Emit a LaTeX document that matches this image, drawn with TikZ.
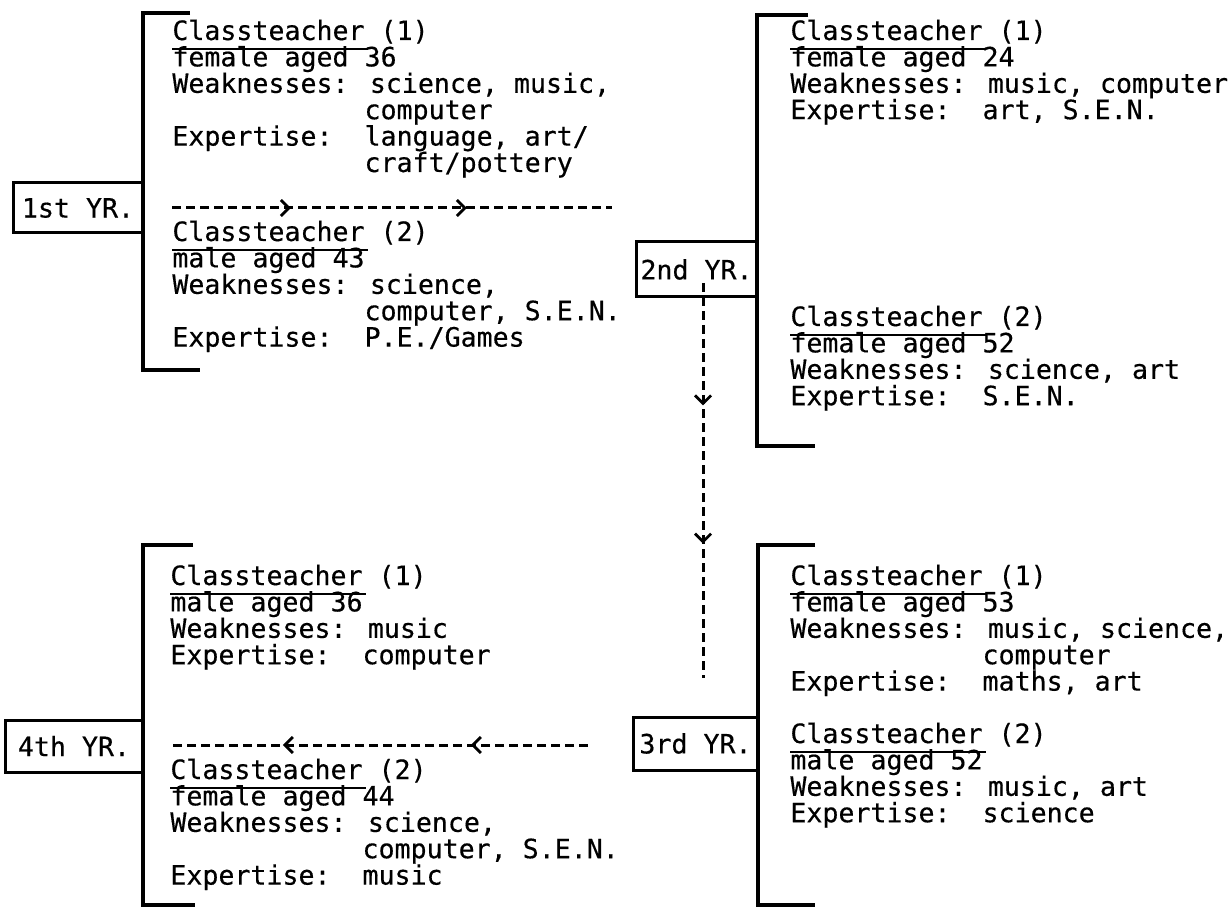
\documentclass[tikz,border=0pt]{standalone}
\usepackage{fontspec}
\newfontfamily\tw[FakeBold=0.4]{DejaVu Sans Mono}
\usetikzlibrary{arrows.meta,decorations.markings}
\tikzset{
  lbl/.style={anchor=base west,inner sep=0pt,font=\tw\fontsize{13.3}{16}\selectfont},
  yrbox/.style={draw,line width=1.5pt,inner sep=0pt,font=\tw\fontsize{13.3}{16}\selectfont},
  brk/.style={line width=1.6pt},
  ul/.style={line width=1pt},
  flow/.style={line width=1.5pt,dash pattern=on 4.5pt off 2.5pt},
  flowmarks/.style 2 args={flow,postaction={decorate},
    decoration={markings,
      mark=at position #1 with {\arrow[line width=1.4pt]{Straight Barb[length=4pt,width=8pt]}},
      mark=at position #2 with {\arrow[line width=1.4pt]{Straight Barb[length=4pt,width=8pt]}}}},
}
\newcommand\ind{\hphantom{Weaknesses:\ }}
\begin{document}
\begin{tikzpicture}[x=0.5pt,y=-0.5pt]
\useasboundingbox (0,0) rectangle (1229,908);

% ---------- 1st YR ----------
\node[yrbox,minimum width=65pt,minimum height=25pt] (y1) at (78,208) {1st YR.};
\coordinate (b1t) at (190,13);
\coordinate (b1b) at (200,370);
\draw[brk] (b1t) -- (143,13) -- (143,370) -- (b1b);
\node[lbl] (t1a) at (172,40) {Classteacher (1)};
\node[lbl] (t1b) at (172,66.4) {female aged 36};
\node[lbl] (t1c) at (172,92.8) {Weaknesses: science, music,};
\node[lbl] (t1d) at (172,119.2) {\ind computer};
\node[lbl] (t1e) at (172,145.6) {Expertise:\ \ language, art/};
\node[lbl] (t1f) at (172,172) {\ind craft/pottery};
\node[lbl] (t1g) at (172,241) {Classteacher (2)};
\node[lbl] (t1h) at (172,267.4) {male aged 43};
\node[lbl] (t1i) at (172,293.8) {Weaknesses: science,};
\node[lbl] (t1j) at (172,320.2) {\ind computer, S.E.N.};
\node[lbl] (t1k) at (172,346.6) {Expertise:\ \ P.E./Games};
\draw[ul] ([yshift=-4.5pt]t1a.base west) -- ++(196,0);
\draw[ul] ([yshift=-4.5pt]t1g.base west) -- ++(196,0);

% ---------- 2nd YR ----------
\node[yrbox,minimum width=60.5pt,minimum height=27.5pt] (y2) at (696.5,269.5) {2nd YR.};
\coordinate (b2t) at (808,15);
\coordinate (b2b) at (815,446);
\draw[brk] (b2t) -- (757,15) -- (757,446) -- (b2b);
\node[lbl] (t2a) at (790,40) {Classteacher (1)};
\node[lbl] (t2b) at (790,66.4) {female aged 24};
\node[lbl] (t2c) at (790,92.8) {Weaknesses: music, computer};
\node[lbl] (t2d) at (790,119.2) {Expertise:\ \ art, S.E.N.};
\node[lbl] (t2e) at (790,326) {Classteacher (2)};
\node[lbl] (t2f) at (790,352.4) {female aged 52};
\node[lbl] (t2g) at (790,378.8) {Weaknesses: science, art};
\node[lbl] (t2h) at (790,405.2) {Expertise:\ \ S.E.N.};
\draw[ul] ([yshift=-4.5pt]t2a.base west) -- ++(196,0);
\draw[ul] ([yshift=-4.5pt]t2e.base west) -- ++(196,0);

% ---------- 3rd YR ----------
\node[yrbox,minimum width=62.5pt,minimum height=26.5pt] (y3) at (695.5,743.5) {3rd YR.};
\coordinate (b3t) at (815,545);
\coordinate (b3b) at (815,905);
\draw[brk] (b3t) -- (758,545) -- (758,905) -- (b3b);
\node[lbl] (t3a) at (790,585) {Classteacher (1)};
\node[lbl] (t3b) at (790,611.4) {female aged 53};
\node[lbl] (t3c) at (790,637.8) {Weaknesses: music, science,};
\node[lbl] (t3d) at (790,664.2) {\ind computer};
\node[lbl] (t3e) at (790,690.6) {Expertise:\ \ maths, art};
\node[lbl] (t3f) at (790,743) {Classteacher (2)};
\node[lbl] (t3g) at (790,769.4) {male aged 52};
\node[lbl] (t3h) at (790,795.8) {Weaknesses: music, art};
\node[lbl] (t3i) at (790,822.2) {Expertise:\ \ science};
\draw[ul] ([yshift=-4.5pt]t3a.base west) -- ++(196,0);
\draw[ul] ([yshift=-4.5pt]t3f.base west) -- ++(196,0);

% ---------- 4th YR ----------
\node[yrbox,minimum width=69pt,minimum height=26pt] (y4) at (74,746) {4th YR.};
\coordinate (b4t) at (193,545);
\coordinate (b4b) at (195,905);
\draw[brk] (b4t) -- (143,545) -- (143,905) -- (b4b);
\node[lbl] (t4a) at (170,585) {Classteacher (1)};
\node[lbl] (t4b) at (170,611.4) {male aged 36};
\node[lbl] (t4c) at (170,637.8) {Weaknesses: music};
\node[lbl] (t4d) at (170,664.2) {Expertise:\ \ computer};
\node[lbl] (t4e) at (170,779) {Classteacher (2)};
\node[lbl] (t4f) at (170,805.4) {female aged 44};
\node[lbl] (t4g) at (170,831.8) {Weaknesses: science,};
\node[lbl] (t4h) at (170,858.2) {\ind computer, S.E.N.};
\node[lbl] (t4i) at (170,884.6) {Expertise:\ \ music};
\draw[ul] ([yshift=-4.5pt]t4a.base west) -- ++(196,0);
\draw[ul] ([yshift=-4.5pt]t4e.base west) -- ++(196,0);

% ---------- flows ----------
\coordinate (f1s) at (172,208);
\coordinate (f1e) at (612,208);
\draw[flowmarks={0.27}{0.67}] (f1s) -- (f1e);
\coordinate (f2s) at (703,283);
\coordinate (f2e) at (703,678);
\draw[flowmarks={0.31}{0.66}] (f2s) -- (f2e);
\coordinate (f3s) at (588,745);
\coordinate (f3e) at (170,745);
\draw[flowmarks={0.28}{0.73}] (f3s) -- (f3e);
\end{tikzpicture}
\end{document}
